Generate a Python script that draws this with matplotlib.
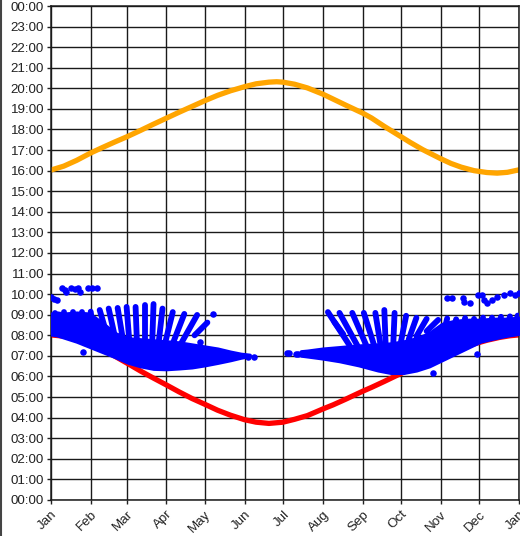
import numpy as np
import matplotlib
matplotlib.use("Agg")
import matplotlib.pyplot as plt
from matplotlib.lines import Line2D

plt.rcParams["font.family"] = ["Liberation Sans", "DejaVu Sans"]

# ---- calendar --------------------------------------------------------------
month_labels = ["Jan", "Feb", "Mar", "Apr", "May", "Jun", "Jul",
                "Aug", "Sep", "Oct", "Nov", "Dec", "Jan"]

# ---- sunrise / sunset (day of year, decimal hours) -------------------------
sunrise_days = [0, 10, 20, 31, 40, 50, 59, 70, 80, 90, 100, 110, 120, 130,
                140, 151, 160, 170, 181, 190, 200, 212, 220, 230, 243, 250,
                260, 273, 280, 290, 304, 312, 320, 330, 340, 350, 358, 365]
sunrise_h = [8.02, 7.96, 7.82, 7.58, 7.32, 6.98, 6.66, 6.26, 5.92, 5.59,
             5.25, 4.93, 4.65, 4.36, 4.12, 3.90, 3.78, 3.72, 3.78, 3.92,
             4.10, 4.42, 4.62, 4.90, 5.28, 5.47, 5.76, 6.15, 6.36, 6.66,
             6.98, 7.18, 7.37, 7.58, 7.76, 7.90, 7.98, 8.02]

sunset_days = [0, 10, 20, 31, 40, 50, 59, 70, 80, 90, 100, 110, 120, 130,
               140, 151, 160, 170, 176, 181, 190, 200, 212, 220, 230, 243,
               250, 260, 273, 280, 290, 304, 312, 320, 330, 340, 348, 356,
               365]
sunset_h = [16.03, 16.22, 16.50, 16.86, 17.12, 17.40, 17.64, 17.96, 18.26,
            18.55, 18.84, 19.12, 19.40, 19.66, 19.88, 20.08, 20.22, 20.30,
            20.32, 20.30, 20.20, 20.02, 19.72, 19.48, 19.18, 18.80, 18.56,
            18.15, 17.65, 17.38, 17.02, 16.58, 16.35, 16.17, 16.00, 15.91,
            15.88, 15.92, 16.04]

# ---- recorded times: dense spring band --------------------------------------
spring_days = [0, 5, 10, 20, 30, 40, 50, 60, 70, 80, 90, 100, 110, 120,
               130, 140, 148, 155]
spring_low = [8.05, 8.0, 7.9, 7.7, 7.45, 7.2, 6.95, 6.68, 6.5, 6.38, 6.36,
              6.4, 6.45, 6.55, 6.67, 6.8, 6.92, 7.0]
spring_high = [9.05, 9.1, 9.05, 9.1, 9.05, 8.6, 8.1, 7.85, 7.8, 7.75, 7.7,
               7.65, 7.55, 7.45, 7.35, 7.2, 7.1, 7.05]

# ---- recorded times: dense autumn band --------------------------------------
autumn_days = [195, 200, 212, 225, 240, 255, 265, 275, 285, 295, 305, 315,
               325, 335, 345, 355, 365]
autumn_low = [7.02, 6.98, 6.88, 6.75, 6.55, 6.3, 6.18, 6.18, 6.3, 6.5, 6.8,
              7.1, 7.4, 7.7, 7.85, 7.98, 8.08]
autumn_high = [7.22, 7.25, 7.35, 7.42, 7.5, 7.55, 7.6, 7.7, 7.85, 8.1, 8.55,
               8.7, 8.75, 8.75, 8.8, 8.8, 8.85]

# ---- weekly streaks (top day/hour -> bottom day/hour) -----------------------
streak_top_day = [3, 10, 17, 24, 31, 38, 45, 52, 59, 66, 73, 80, 87, 95,
                  104, 114, 122,
                  216, 221, 225, 235, 244, 253, 260, 268, 277, 285, 293,
                  302, 309, 316, 323, 330, 337, 344, 351, 358, 364]
streak_top_h = [9.08, 9.12, 9.15, 9.12, 9.15, 9.23, 9.30, 9.33, 9.38, 9.38,
                9.47, 9.52, 9.30, 9.13, 9.04, 8.99, 8.62,
                9.13, 8.65, 9.09, 9.09, 9.09, 9.09, 9.23, 9.09, 8.95, 8.85,
                8.80, 8.75, 8.82, 8.78, 8.84, 8.80, 8.86, 8.86, 8.90, 8.92,
                8.96]
streak_bot_day = [3, 10, 17, 24, 33, 44, 50, 56, 61, 67, 73, 79, 84, 89,
                  95, 101, 112,
                  233, 228, 239, 246, 252, 257, 261, 267, 273, 279, 285,
                  293, 307, 314, 321, 328, 335, 342, 349, 356, 362]
streak_bot_h = [8.4, 8.4, 8.4, 8.3, 8.2, 7.95, 7.9, 7.85, 7.8, 7.75, 7.7,
                7.7, 7.65, 7.62, 7.6, 7.55, 8.0,
                7.5, 8.05, 7.5, 7.5, 7.52, 7.55, 7.58, 7.62, 7.7, 7.8, 7.95,
                8.2, 8.3, 8.3, 8.3, 8.3, 8.35, 8.4, 8.4, 8.45, 8.45]

# ---- scattered single readings ----------------------------------------------
dot_days = [0, 2, 5, 9, 11, 12, 16, 19, 21, 23, 29, 32, 36,
            309, 313, 321, 322, 327, 333, 336, 338, 340, 344, 348, 353, 358,
            362, 365,
            25, 116, 126, 154, 158, 298, 332,
            184, 186, 191, 193, 197]
dot_h = [9.87, 9.77, 9.72, 10.3, 10.2, 10.1, 10.3, 10.25, 10.3, 10.1, 10.3,
         10.3, 10.3,
         9.81, 9.81, 9.81, 9.62, 9.55, 9.96, 9.96, 9.72, 9.57, 9.72, 9.86,
         9.96, 10.06, 9.96, 10.06,
         7.2, 7.68, 9.02, 6.97, 6.97, 6.17, 7.1,
         7.12, 7.12, 7.1, 7.1, 7.12]

BLUE = "#0000FF"
RED = "#FF0000"
ORANGE = "#FFA500"

fig = plt.figure(figsize=(5.2, 5.36), dpi=100)
ax = fig.add_axes([0.098, 0.0672, 0.900, 0.9216])

# sunrise / sunset curves
ax.plot(sunset_days, sunset_h, color=ORANGE, lw=3.8, solid_capstyle="round",
        solid_joinstyle="round", zorder=2)
ax.plot(sunrise_days, sunrise_h, color=RED, lw=3.8, solid_capstyle="round",
        solid_joinstyle="round", zorder=2)

# recorded times
for d, lo, hi in ((spring_days, spring_low, spring_high),
                  (autumn_days, autumn_low, autumn_high)):
    ax.fill_between(d, lo, hi, color=BLUE, lw=2.5, edgecolor=BLUE, zorder=3)

for d0, h0, d1, h1 in zip(streak_top_day, streak_top_h,
                          streak_bot_day, streak_bot_h):
    ax.plot([d0, d1], [h0, h1], color=BLUE, lw=4.2, solid_capstyle="round",
            zorder=3)

ax.scatter(dot_days, dot_h, s=22, color=BLUE, lw=0, zorder=3)

# axes
month_starts = np.arange("2011-01", "2012-02", dtype="datetime64[M]")
month_ticks = (month_starts.astype("datetime64[D]")
               - np.datetime64("2011-01-01")).astype(int)
ax.set_xlim(0, 365)
ax.set_ylim(0, 24)
ax.set_xticks(month_ticks)
ax.set_xticklabels(month_labels, rotation=45, ha="right",
                   rotation_mode="anchor")
hours = np.arange(0, 25)
ax.set_yticks(hours)
ax.set_yticklabels([f"{h % 24:02d}:00" for h in hours])
ax.tick_params(axis="both", labelsize=9.6, colors="#222222", length=3,
               width=1.0, pad=2)
ax.tick_params(axis="x", pad=3)
ax.grid(True, color="#1a1a1a", lw=1.0, zorder=0)
ax.set_axisbelow(True)
for sp in ax.spines.values():
    sp.set_color("#1a1a1a")
    sp.set_linewidth(1.1)

fig.add_artist(Line2D([0.002, 0.002], [0, 1], transform=fig.transFigure,
                      color="#444444", lw=1.5))

fig.savefig("out.png", dpi=100)
